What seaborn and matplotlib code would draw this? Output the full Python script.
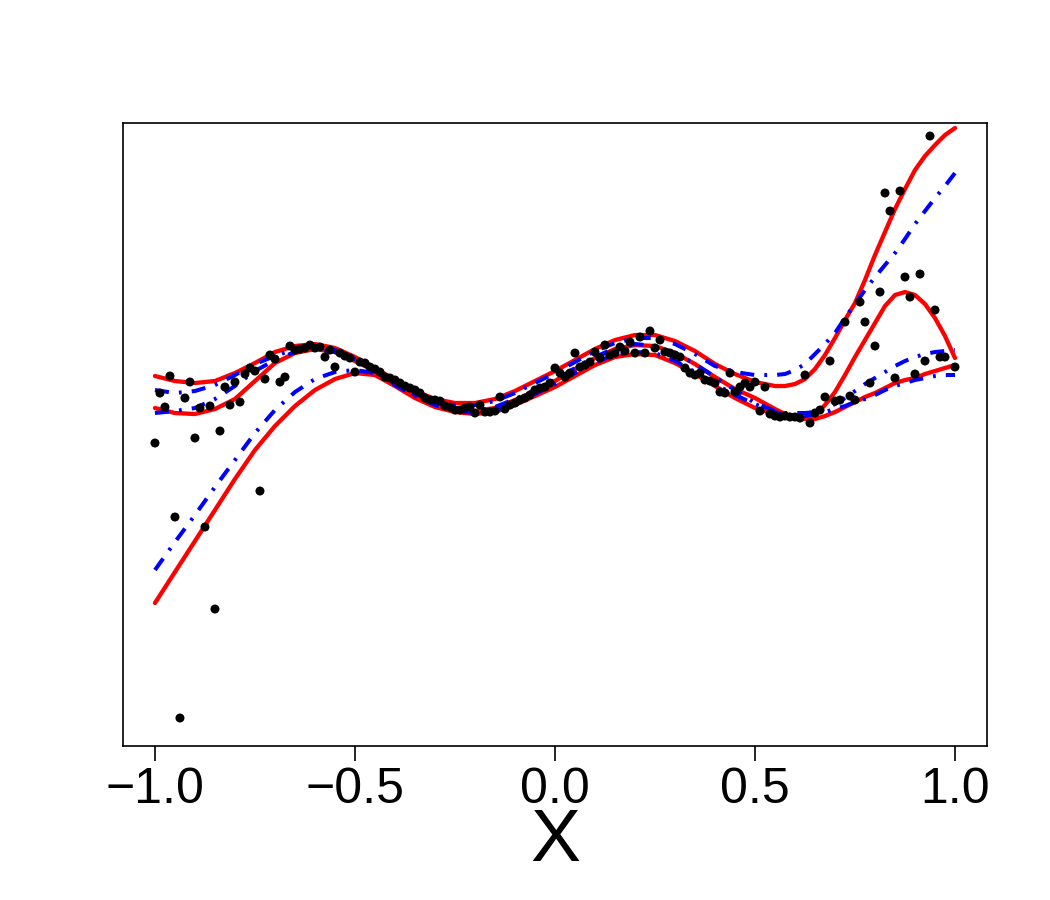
import numpy as np
import pandas as pd
import matplotlib
matplotlib.use("Agg")
import matplotlib.pyplot as plt
import seaborn as sns

# observed points (x, y)
pt_x = [
    -1.0, -0.9875, -0.975, -0.9625, -0.95, -0.9375, -0.925, -0.9125,
    -0.9, -0.8875, -0.875, -0.8625, -0.85, -0.8375, -0.825, -0.8125,
    -0.8, -0.7875, -0.775, -0.7625, -0.75, -0.7375, -0.725, -0.7125,
    -0.7, -0.6875, -0.675, -0.6625, -0.65, -0.6375, -0.625, -0.6125,
    -0.6, -0.5875, -0.575, -0.5625, -0.55, -0.5375, -0.525, -0.5125,
    -0.5, -0.4875, -0.475, -0.4625, -0.45, -0.4375, -0.425, -0.4125,
    -0.4, -0.3875, -0.375, -0.3625, -0.35, -0.3375, -0.325, -0.3125,
    -0.3, -0.2875, -0.275, -0.2625, -0.25, -0.2375, -0.225, -0.2125,
    -0.2, -0.1875, -0.175, -0.1625, -0.15, -0.1375, -0.125, -0.1125,
    -0.1, -0.0875, -0.075, -0.0625, -0.05, -0.0375, -0.025, -0.0125,
    0.0, 0.0125, 0.025, 0.0375, 0.05, 0.0625, 0.075, 0.0875,
    0.1, 0.1125, 0.125, 0.1375, 0.15, 0.1625, 0.175, 0.1875,
    0.2, 0.2125, 0.225, 0.2375, 0.25, 0.2625, 0.275, 0.2875,
    0.3, 0.3125, 0.325, 0.3375, 0.35, 0.3625, 0.375, 0.3875,
    0.4, 0.4125, 0.425, 0.4375, 0.45, 0.4625, 0.475, 0.4875,
    0.5, 0.5125, 0.525, 0.5375, 0.55, 0.5625, 0.575, 0.5875,
    0.6, 0.6125, 0.625, 0.6375, 0.65, 0.6625, 0.675, 0.6875,
    0.7, 0.7125, 0.725, 0.7375, 0.75, 0.7625, 0.775, 0.7875,
    0.8, 0.8125, 0.825, 0.8375, 0.85, 0.8625, 0.875, 0.8875,
    0.9, 0.9125, 0.925, 0.9375, 0.95, 0.9625, 0.975, 1.0,
]
pt_y = [
    -0.43, 0.07, -0.07, 0.24, -1.17, -3.18, 0.02, 0.18,
    -0.38, -0.08, -1.27, -0.06, -2.09, -0.31, 0.13, -0.05,
    0.18, -0.02, 0.26, 0.32, 0.29, -0.91, 0.21, 0.45,
    0.41, 0.18, 0.23, 0.54, 0.50, 0.51, 0.52, 0.55,
    0.52, 0.53, 0.43, 0.50, 0.33, 0.47, 0.44, 0.42,
    0.28, 0.38, 0.37, 0.33, 0.31, 0.28, 0.23, 0.22,
    0.20, 0.17, 0.14, 0.12, 0.10, 0.07, 0.02, 0.00,
    0.00, -0.01, -0.06, -0.07, -0.10, -0.10, -0.08, -0.07,
    -0.13, -0.05, -0.12, -0.12, -0.11, 0.03, -0.09, -0.05,
    -0.03, 0.00, 0.02, 0.05, 0.10, 0.12, 0.13, 0.17,
    0.32, 0.27, 0.23, 0.27, 0.47, 0.33, 0.35, 0.38,
    0.48, 0.42, 0.55, 0.45, 0.47, 0.53, 0.49, 0.58,
    0.47, 0.63, 0.47, 0.69, 0.52, 0.60, 0.48, 0.47,
    0.45, 0.43, 0.32, 0.27, 0.25, 0.27, 0.20, 0.19,
    0.17, 0.08, 0.07, 0.27, 0.08, 0.13, 0.17, 0.13,
    0.18, -0.11, 0.13, -0.14, -0.16, -0.17, -0.16, -0.17,
    -0.17, -0.18, 0.25, -0.23, -0.13, -0.10, 0.03, 0.39,
    -0.01, 0.00, 0.78, 0.04, 0.00, 0.98, 0.78, 0.17,
    0.54, 1.08, 2.07, 1.89, 0.22, 2.09, 1.23, 1.03,
    0.26, 1.26, 0.39, 2.64, 0.90, 0.43, 0.43, 0.33,
]

# curves: x positions (finer on the right where they bend)
grid_x = [-1.0, -0.95, -0.9, -0.85, -0.8, -0.75, -0.7, -0.65, -0.6, -0.55,
          -0.5, -0.45, -0.4, -0.35, -0.3, -0.25, -0.2, -0.15, -0.1, -0.05,
          0.0, 0.05, 0.1, 0.15, 0.2, 0.25, 0.3, 0.35, 0.4, 0.45,
          0.5, 0.55, 0.575, 0.6, 0.625, 0.65, 0.675, 0.7, 0.725, 0.75,
          0.775, 0.8, 0.825, 0.85, 0.875, 0.9, 0.925, 0.95, 0.975, 1.0]

# estimated curves (red, solid)
est_upper = [0.24, 0.19, 0.17, 0.19, 0.27, 0.37, 0.48, 0.54, 0.56, 0.52,
             0.43, 0.32, 0.20, 0.09, 0.01, -0.03, -0.03, 0.01, 0.09, 0.19,
             0.29, 0.40, 0.51, 0.60, 0.65, 0.65, 0.59, 0.49, 0.36, 0.26,
             0.18, 0.14, 0.14, 0.16, 0.21, 0.31, 0.45, 0.62, 0.80, 0.97,
             1.20, 1.45, 1.68, 1.91, 2.11, 2.30, 2.44, 2.55, 2.65, 2.72]
est_mid = [-0.08, -0.13, -0.14, -0.09, 0.01, 0.19, 0.37, 0.47, 0.51, 0.48,
           0.39, 0.29, 0.16, 0.05, -0.04, -0.09, -0.11, -0.08, 0.00, 0.09,
           0.19, 0.31, 0.42, 0.51, 0.55, 0.54, 0.47, 0.36, 0.23, 0.11,
           0.02, -0.09, -0.14, -0.16, -0.18, -0.15, -0.05, 0.08, 0.25, 0.43,
           0.60, 0.77, 0.94, 1.05, 1.08, 1.05, 0.96, 0.82, 0.64, 0.42]
est_lower = [-2.03, -1.72, -1.41, -1.10, -0.79, -0.50, -0.26, -0.06, 0.10, 0.21,
             0.27, 0.25, 0.14, 0.02, -0.07, -0.12, -0.14, -0.12, -0.05, 0.04,
             0.13, 0.24, 0.35, 0.43, 0.46, 0.45, 0.37, 0.26, 0.14, 0.02,
             -0.08, -0.14, -0.17, -0.18, -0.19, -0.19, -0.16, -0.12, -0.07, -0.02,
             0.03, 0.07, 0.12, 0.17, 0.20, 0.22, 0.26, 0.29, 0.32, 0.35]

# true curves (blue, dash-dot)
true_upper = [0.10, 0.07, 0.09, 0.15, 0.25, 0.36, 0.44, 0.51, 0.54, 0.50,
              0.41, 0.31, 0.18, 0.07, -0.01, -0.05, -0.05, -0.01, 0.07, 0.17,
              0.27, 0.38, 0.49, 0.57, 0.62, 0.62, 0.56, 0.46, 0.34, 0.28,
              0.25, 0.25, 0.26, 0.30, 0.36, 0.46, 0.56, 0.67, 0.82, 0.96,
              1.10, 1.23, 1.35, 1.47, 1.61, 1.76, 1.89, 2.02, 2.14, 2.27]
true_mid = [-0.13, -0.11, -0.08, 0.01, 0.14, 0.29, 0.40, 0.48, 0.51, 0.48,
            0.40, 0.29, 0.16, 0.05, -0.04, -0.09, -0.11, -0.07, 0.01, 0.10,
            0.20, 0.32, 0.43, 0.52, 0.56, 0.54, 0.47, 0.36, 0.23, 0.10,
            -0.03, -0.11, -0.13, -0.13, -0.13, -0.12, -0.09, -0.04, 0.02, 0.09,
            0.16, 0.22, 0.28, 0.34, 0.39, 0.43, 0.46, 0.48, 0.49, 0.50]
true_lower = [-1.70, -1.42, -1.15, -0.87, -0.60, -0.33, -0.10, 0.08, 0.21, 0.28,
              0.30, 0.27, 0.15, 0.04, -0.05, -0.11, -0.13, -0.11, -0.04, 0.06,
              0.16, 0.27, 0.38, 0.45, 0.48, 0.47, 0.39, 0.28, 0.16, 0.05,
              -0.04, -0.12, -0.15, -0.16, -0.16, -0.14, -0.12, -0.09, -0.06, -0.02,
              0.01, 0.05, 0.10, 0.14, 0.17, 0.20, 0.22, 0.24, 0.25, 0.25]

sns.set_style("white")
plt.rcParams['font.family'] = ['Liberation Sans', 'DejaVu Sans']
plt.rcParams['text.color'] = 'black'
plt.rcParams['axes.labelcolor'] = 'black'
plt.rcParams['xtick.color'] = 'black'

fig = plt.figure(figsize=(10.5, 9), dpi=100)
ax = fig.add_axes([0.1171, 0.1711, 0.8229, 0.6922])

for curve in [est_upper, est_mid, est_lower]:
    sns.lineplot(x=grid_x, y=curve, ax=ax, color='#ff0000', lw=3.1,
                 sort=False, estimator=None, solid_capstyle='round',
                 solid_joinstyle='round')

dashdot = (0, (3.5, 2.5, 0.7, 2.5))
for curve in [true_upper, true_mid, true_lower]:
    sns.lineplot(x=grid_x, y=curve, ax=ax, color='#0000ff', lw=2.9,
                 sort=False, estimator=None, linestyle=dashdot)

pts = pd.DataFrame({'x': pt_x, 'y': pt_y})
sns.scatterplot(data=pts, x='x', y='y', ax=ax, color='black', s=42,
                edgecolor='none', zorder=5)

ax.set_xlim(-1.08, 1.08)
ax.set_ylim(-3.46, 2.77)
ax.set_yticks([])
ax.set_ylabel('')
ax.set_xticks([-1.0, -0.5, 0.0, 0.5, 1.0])
ax.set_xticklabels(['\u22121.0', '\u22120.5', '0.0', '0.5', '1.0'])
ax.tick_params(axis='x', bottom=True, length=11, width=1.2, labelsize=36,
               pad=4, color='black', labelcolor='black')
ax.set_xlabel('X', fontsize=54, labelpad=-4, color='black')

for sp in ax.spines.values():
    sp.set_visible(True)
    sp.set_linewidth(1.2)
    sp.set_color('black')

fig.savefig('out.png', dpi=100)
